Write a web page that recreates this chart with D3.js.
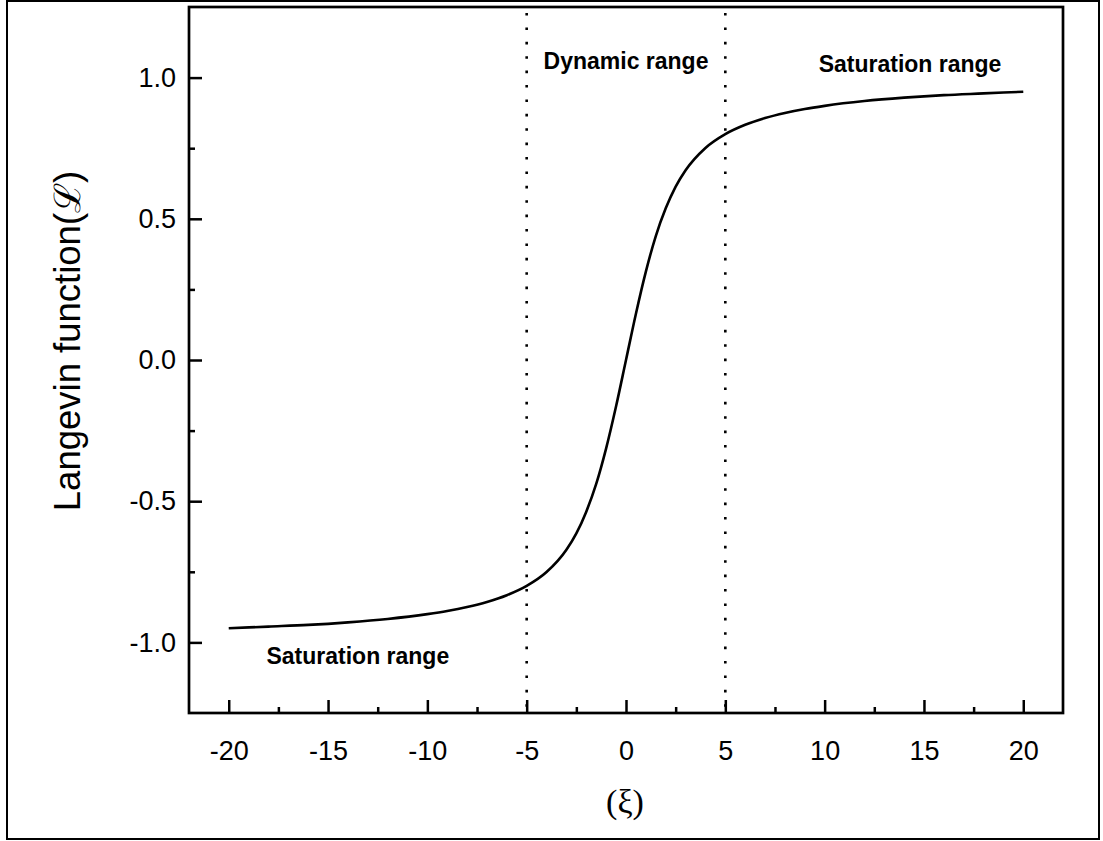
<!DOCTYPE html>
<html lang="en">
<head>
<meta charset="utf-8">
<title>Langevin function</title>
<script src="https://cdn.jsdelivr.net/npm/d3@7"></script>
<style>
  body { margin: 0; background: #fff; }
  svg text { font-family: "Liberation Sans", Arial, sans-serif; fill: #000; }
</style>
</head>
<body>
<script>
// values (xi, L)
var xiValues = [-20, -18, -16, -14, -12, -10, -9, -8, -7, -6, -5, -4, -3, -2.5, -2, -1.5, -1, -0.5, 0,
                0.5, 1, 1.5, 2, 2.5, 3, 4, 5, 6, 7, 8, 9, 10, 12, 14, 16, 18, 20];
var lValues = [-0.950, -0.944, -0.938, -0.929, -0.917, -0.900, -0.889, -0.875, -0.857, -0.833, -0.800, -0.751, -0.672, -0.614, -0.537, -0.439, -0.313, -0.164, 0,
               0.164, 0.313, 0.439, 0.537, 0.614, 0.672, 0.751, 0.800, 0.833, 0.857, 0.875, 0.889, 0.900, 0.917, 0.929, 0.938, 0.944, 0.950];
var xTicks = [-20, -15, -10, -5, 0, 5, 10, 15, 20];
var yTicks = [-1.0, -0.5, 0.0, 0.5, 1.0];
var boundaries = [-5, 5];

var W = 1103, H = 841;
var margin = {top: 7, right: 40, bottom: 128, left: 189};
var width = 1063 - margin.left, height = 713 - margin.top;

// plain hyphen for negatives, like the original
var loc = d3.formatLocale({decimal: ".", thousands: ",", grouping: [3], currency: ["", ""], minus: "-"});

var svg = d3.select("body").append("svg")
    .attr("width", W).attr("height", H);

// outer box
svg.append("rect")
    .attr("x", 7).attr("y", 1).attr("width", 1092).attr("height", 838)
    .attr("fill", "none").attr("stroke", "#000").attr("stroke-width", 2);

var g = svg.append("g")
    .attr("transform", "translate(" + margin.left + "," + margin.top + ")");

var x = d3.scaleLinear().domain([-22, 22]).range([0, width]);
var y = d3.scaleLinear().domain([-1.25, 1.25]).range([height, 0]);

// minor ticks
var xMinor = d3.range(-17.5, 20, 5);
var yMinor = [-0.75, -0.25, 0.25, 0.75];

g.append("g")
    .attr("transform", "translate(0," + height + ")")
    .call(d3.axisBottom(x).tickValues(xMinor).tickSize(-6).tickFormat(""))
    .call(function(a) { a.select(".domain").remove(); });
g.append("g")
    .call(d3.axisLeft(y).tickValues(yMinor).tickSize(-6).tickFormat(""))
    .call(function(a) { a.select(".domain").remove(); });

// major ticks
var xAxis = g.append("g")
    .attr("transform", "translate(0," + height + ")")
    .call(d3.axisBottom(x).tickValues(xTicks).tickSize(-13).tickPadding(28).tickFormat(loc.format("d")));
xAxis.select(".domain").remove();
xAxis.selectAll("text").attr("font-size", 27).attr("font-family", "Liberation Sans, Arial, sans-serif");

var yAxis = g.append("g")
    .call(d3.axisLeft(y).tickValues(yTicks).tickSize(-13).tickPadding(13).tickFormat(loc.format(".1f")));
yAxis.select(".domain").remove();
yAxis.selectAll("text").attr("font-size", 27).attr("font-family", "Liberation Sans, Arial, sans-serif");

g.selectAll(".tick line").attr("stroke", "#000").attr("stroke-width", 2.5);

// dotted boundaries
g.selectAll(".bound")
    .data(boundaries)
    .enter().append("line")
    .attr("class", "bound")
    .attr("x1", function(d) { return x(d); })
    .attr("x2", function(d) { return x(d); })
    .attr("y1", 6).attr("y2", height)
    .attr("stroke", "#000").attr("stroke-width", 2.6)
    .attr("stroke-dasharray", "2.6 11.8");

// curve
var pts = xiValues.map(function(v, i) { return [v, lValues[i]]; });
g.append("path")
    .datum(pts)
    .attr("fill", "none")
    .attr("stroke", "#000")
    .attr("stroke-width", 2.6)
    .attr("d", d3.line()
        .x(function(d) { return x(d[0]); })
        .y(function(d) { return y(d[1]); })
        .curve(d3.curveMonotoneX));

// frame
g.append("rect")
    .attr("width", width).attr("height", height)
    .attr("fill", "none").attr("stroke", "#000").attr("stroke-width", 2.7);

// region labels
var labels = [
    {t: "Dynamic range", xi: 0, yv: 1.03},
    {t: "Saturation range", xi: 14.3, yv: 1.02},
    {t: "Saturation range", xi: -13.5, yv: -1.075}
];
g.selectAll(".region")
    .data(labels)
    .enter().append("text")
    .attr("class", "region")
    .attr("x", function(d) { return x(d.xi); })
    .attr("y", function(d) { return y(d.yv); })
    .attr("text-anchor", "middle")
    .attr("font-size", 23)
    .attr("font-weight", "bold")
    .text(function(d) { return d.t; });

// axis titles
svg.append("text")
    .attr("transform", "translate(80,341) rotate(-90)")
    .attr("text-anchor", "middle")
    .attr("font-size", 36.5)
    .text("Langevin function(\u2112)");

svg.append("text")
    .attr("x", 625).attr("y", 813)
    .attr("text-anchor", "middle")
    .attr("font-size", 34)
    .style("font-family", "'Liberation Serif', 'Times New Roman', serif")
    .text("(\u03BE)");
</script>
</body>
</html>
